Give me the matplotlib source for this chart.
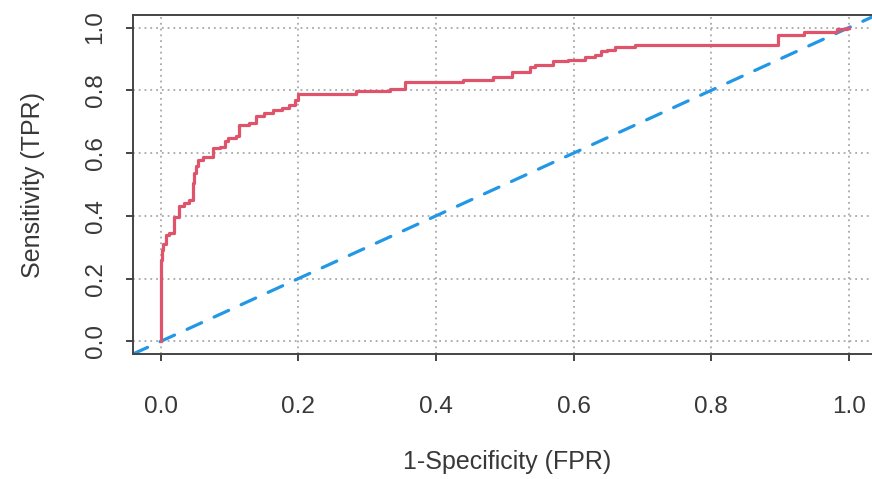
import matplotlib
matplotlib.use("Agg")
import matplotlib.pyplot as plt

plt.rcParams['font.family'] = ['Liberation Sans', 'DejaVu Sans']

# ROC curve: at each fpr the tpr steps up to the given value
fpr = [0.0, 0.0, 0.001, 0.002, 0.003, 0.008, 0.012, 0.020, 0.027, 0.034, 0.042,
       0.047, 0.049, 0.051, 0.054, 0.062, 0.076, 0.086, 0.094, 0.098, 0.110,
       0.114, 0.129, 0.138, 0.150, 0.163, 0.176, 0.187, 0.195, 0.200, 0.284,
       0.333, 0.355, 0.439, 0.483, 0.510, 0.536, 0.544, 0.570, 0.592, 0.616,
       0.631, 0.640, 0.648, 0.660, 0.689, 0.897, 0.934, 0.982, 0.997, 1.0]
tpr = [0.0, 0.21, 0.26, 0.29, 0.312, 0.339, 0.344, 0.397, 0.431, 0.440, 0.450,
       0.504, 0.536, 0.560, 0.578, 0.589, 0.616, 0.620, 0.637, 0.648, 0.653,
       0.690, 0.696, 0.717, 0.727, 0.738, 0.743, 0.754, 0.770, 0.789, 0.799,
       0.804, 0.825, 0.834, 0.844, 0.860, 0.874, 0.882, 0.892, 0.898, 0.905,
       0.912, 0.924, 0.930, 0.938, 0.944, 0.977, 0.986, 0.994, 1.0, 1.0]

ticks = [0.0, 0.2, 0.4, 0.6, 0.8, 1.0]
tick_labels = ["0.0", "0.2", "0.4", "0.6", "0.8", "1.0"]

red = "#DF536B"
blue = "#2297E6"
ink = "#383838"

fig = plt.figure(figsize=(8.72, 4.79), dpi=100)
# right edge of the box falls just outside the picture, as in the original
ax = fig.add_axes([133 / 872, 1 - 354 / 479, (876.5 - 133) / 872, 339 / 479])

ax.set_xlim(-0.04, 1.04)
ax.set_ylim(-0.04, 1.04)

# R style dotted grid
for t in ticks:
    ax.axvline(t, color="#a8a8a8", lw=1.3, ls=(0, (1, 2.2)), zorder=1)
    ax.axhline(t, color="#a8a8a8", lw=1.3, ls=(0, (1, 2.2)), zorder=1)

ax.plot(fpr, tpr, drawstyle="steps-post", color=red, lw=2.3, zorder=3)
ax.axline((0, 0), slope=1, color=blue, lw=2.3, dashes=(5, 4.3),
          dash_capstyle="round", zorder=2)

ax.set_xticks(ticks)
ax.set_xticklabels(tick_labels)
ax.set_yticks(ticks)
ax.set_yticklabels(tick_labels, rotation=90, va="center")

ax.tick_params(axis="both", direction="out", length=5, width=1.4,
               color="#444444", labelcolor=ink, labelsize=17.5)
ax.tick_params(axis="x", pad=25)
ax.tick_params(axis="y", pad=14)

for s in ax.spines.values():
    s.set_color("#444444")
    s.set_linewidth(1.4)

ax.set_xlabel("1-Specificity (FPR)", fontsize=18, color=ink)
ax.xaxis.set_label_coords(0.503, (354 - 462) / 339)
ax.xaxis.label.set_va("center")
ax.set_ylabel("Sensitivity (TPR)", fontsize=18, color=ink)
ax.yaxis.set_label_coords((33 - 133) / 743.5, 0.5)
ax.yaxis.label.set_va("center")

fig.savefig("out.png", dpi=100)
